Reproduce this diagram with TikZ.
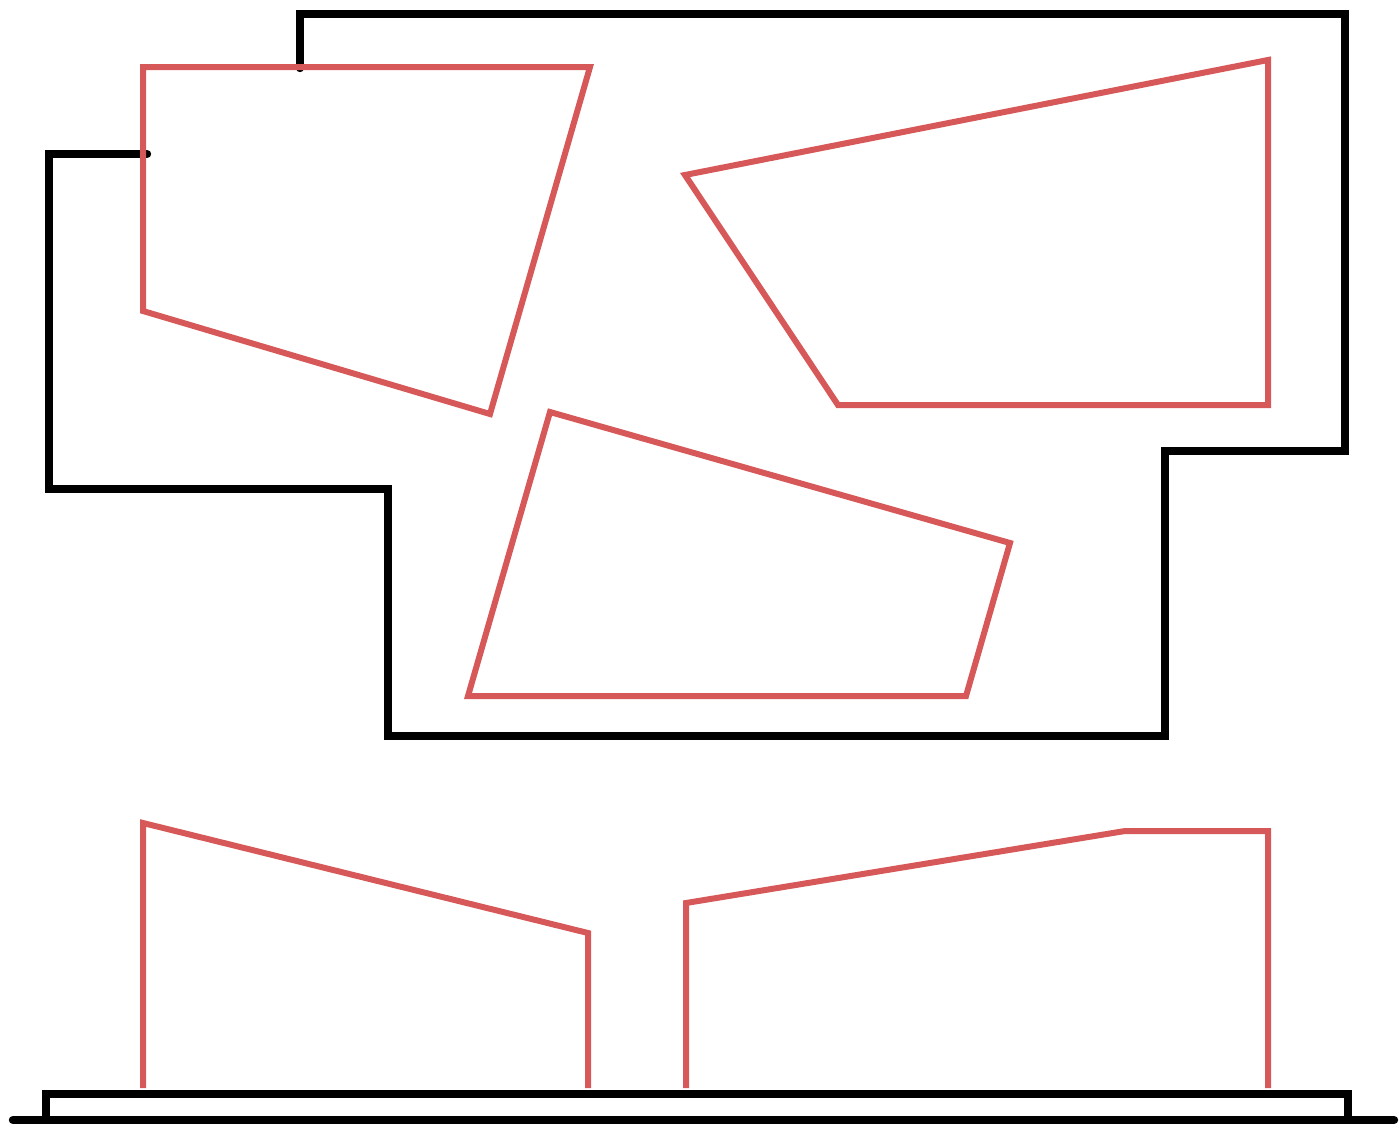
\documentclass[tikz,border=0pt]{standalone}
\definecolor{wallred}{RGB}{214,88,88}
\begin{document}
\begin{tikzpicture}[x=0.5pt,y=-0.5pt,
  wall/.style={line width=4.2pt,black,line join=miter,line cap=round},
  room/.style={line width=3pt,wallred,line join=miter}]
\useasboundingbox (0,0) rectangle (1399,1130);
% black outline
\draw[wall] (300,68) -- (300,14) -- (1345,14) -- (1345,451) -- (1165,451) -- (1165,736) -- (388,736) -- (388,489) -- (49,489) -- (49,154) -- (147,154);
% base
\draw[wall] (46,1119) -- (46,1094) -- (1348,1094) -- (1348,1119);
\draw[wall] (13,1120) -- (1394,1120);
% red rooms
\draw[room] (143,67) -- (590,67) -- (490,414) -- (143,311) -- cycle;
\draw[room] (685,175) -- (1268,60) -- (1268,405) -- (838,405) -- cycle;
\draw[room] (550,412) -- (1010,543) -- (966,696) -- (468,696) -- cycle;
\draw[room] (143,1088) -- (143,823) -- (588,933) -- (588,1088);
\draw[room] (686,1088) -- (686,903) -- (1125,831) -- (1268,831) -- (1268,1088);
\end{tikzpicture}
\end{document}
